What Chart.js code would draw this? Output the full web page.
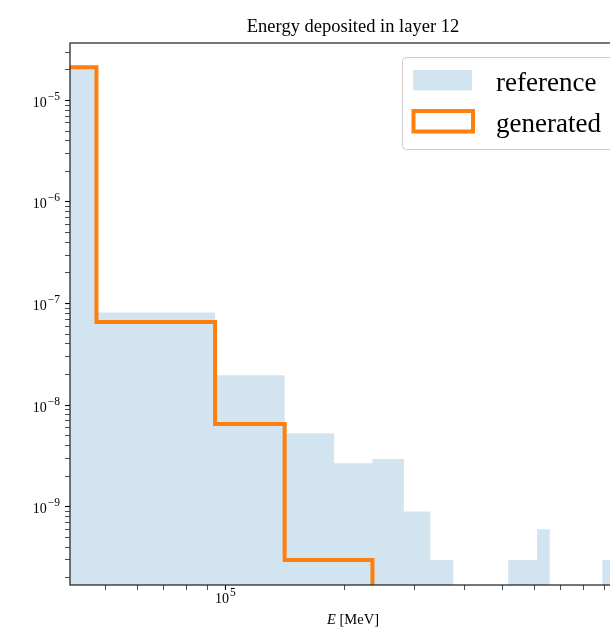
<!DOCTYPE html>
<html>
<head>
<meta charset="UTF-8">
<title>Energy deposited in layer 12</title>
<script src="https://cdn.jsdelivr.net/npm/chart.js"></script>
<style>
  html, body { margin: 0; padding: 0; background: #fff; overflow: hidden; }
  canvas { display: block; }
</style>
</head>
<body>
<canvas id="canvas" width="706" height="632"></canvas>
<script>
// histogram bin edges in MeV and normalised counts per bin
const binEdges = [500, 47370, 94240, 141110, 187980, 234850, 281720, 328590, 375460, 422330,
                  469200, 516070, 562940, 609810, 656680, 703550, 750420, 797290, 844160, 891030, 937900];
const referenceValues = [2.04e-5, 8.15e-8, 1.97e-8, 5.27e-9, 2.67e-9, 2.94e-9, 8.93e-10, 2.98e-10,
                         0, 0, 0, 2.98e-10, 2.98e-10, 5.98e-10, 0, 0, 0, 0, 0, 2.98e-10];
const generatedValues = [2.12e-5, 6.59e-8, 6.5e-9, 2.98e-10, 2.98e-10];

// decades that get a 10^n label
const xTickExponents = [5, 6];
const yTickExponents = [-9, -8, -7, -6, -5];

const serif = '"Liberation Serif", "Times New Roman", serif';

// stepped line: one point per left edge, then drop to zero at the last edge
function stepPoints(values) {
    let pts = values.map(function (v, i) { return {x: binEdges[i], y: v}; });
    pts.push({x: binEdges[values.length], y: 0});
    return pts;
}

// matplotlib style log ticks: 1..9 x 10^n, the 1 is the major one
function logTicks(axis) {
    let ticks = [];
    let lo = Math.floor(Math.log10(axis.min)), hi = Math.ceil(Math.log10(axis.max));
    for (let e = lo; e <= hi; e++) {
        for (let m = 1; m < 10; m++) {
            let v = m * Math.pow(10, e);
            if (v >= axis.min && v <= axis.max) ticks.push({value: v, major: m === 1});
        }
    }
    axis.ticks = ticks;
}

function powerLabel(ctx, exp, x, y, align) {
    let base = '10';
    let sup = (exp < 0 ? '\u2212' : '') + Math.abs(exp);
    ctx.font = '14px ' + serif;
    let wb = ctx.measureText(base).width;
    ctx.font = '11.5px ' + serif;
    let ws = ctx.measureText(sup).width;
    let x0 = align === 'right' ? x - wb - ws - 1 : x - (wb + ws + 1) / 2;
    ctx.textAlign = 'left';
    ctx.textBaseline = 'alphabetic';
    ctx.font = '14px ' + serif;
    ctx.fillText(base, x0, y);
    ctx.font = '11.5px ' + serif;
    ctx.fillText(sup, x0 + wb + 1, y - 7);
}

const decorations = {
    id: 'decorations',
    afterDatasetsDraw: function (chart) {
        let ctx = chart.ctx, ca = chart.chartArea;
        ctx.save();
        ctx.strokeStyle = '#1a1a1a';
        ctx.lineWidth = 1.2;
        ctx.strokeRect(ca.left, ca.top, ca.right - ca.left, ca.bottom - ca.top);
        ctx.restore();
    },
    afterDraw: function (chart) {
        let ctx = chart.ctx, ca = chart.chartArea;
        let xs = chart.scales.x, ys = chart.scales.y;
        ctx.save();
        ctx.fillStyle = '#000';

        yTickExponents.forEach(function (e) {
            let py = ys.getPixelForValue(Math.pow(10, e));
            powerLabel(ctx, e, ca.left - 10, py + 6.5, 'right');
        });
        xTickExponents.forEach(function (e) {
            let px = xs.getPixelForValue(Math.pow(10, e));
            powerLabel(ctx, e, px, ca.bottom + 17.5, 'center');
        });

        // axis title with italic E
        ctx.textBaseline = 'alphabetic';
        ctx.textAlign = 'left';
        ctx.font = 'italic 14.5px ' + serif;
        let wE = ctx.measureText('E').width;
        ctx.font = '14.5px ' + serif;
        let wRest = ctx.measureText(' [MeV]').width;
        let cx = (ca.left + ca.right) / 2 - (wE + wRest) / 2;
        ctx.font = 'italic 14.5px ' + serif;
        ctx.fillText('E', cx, ca.bottom + 39);
        ctx.font = '14.5px ' + serif;
        ctx.fillText(' [MeV]', cx + wE, ca.bottom + 39);

        // legend box in the upper right corner
        let ds = chart.data.datasets;
        let bx = ca.right - 234, by = ca.top + 14, bw = 224, bh = 92;
        ctx.beginPath();
        ctx.roundRect(bx + 0.5, by + 0.5, bw, bh, 4);
        ctx.fillStyle = 'rgba(255,255,255,0.8)';
        ctx.fill();
        ctx.strokeStyle = '#cccccc';
        ctx.lineWidth = 1;
        ctx.stroke();

        ctx.fillStyle = ds[0].backgroundColor;
        ctx.fillRect(bx + 11, by + 13, 59, 20.5);
        ctx.strokeStyle = ds[1].borderColor;
        ctx.lineWidth = 4;
        ctx.lineJoin = 'miter';
        ctx.strokeRect(bx + 11.5, by + 54, 59.5, 20.5);

        ctx.fillStyle = '#000';
        ctx.font = '27px ' + serif;
        ctx.fillText(ds[0].label, bx + 94, by + 33.5);
        ctx.fillText(ds[1].label, bx + 94, by + 74.5);
        ctx.restore();
    }
};

const axisCommon = {
    type: 'logarithmic',
    bounds: 'data',
    afterBuildTicks: logTicks,
    border: {display: false},
    grid: {
        drawOnChartArea: false,
        drawTicks: true,
        tickLength: 5,
        tickColor: '#000',
        tickWidth: function (c) { return c.tick && c.tick.major ? 1.1 : 0.7; }
    },
    ticks: {autoSkip: false, callback: function () { return ''; }}
};

let ctx = document.getElementById('canvas').getContext('2d');
let config = {
    type: 'line',
    data: {
        datasets: [{
            label: 'reference',
            data: stepPoints(referenceValues),
            stepped: 'before',
            fill: 'start',
            backgroundColor: 'rgba(31,119,180,0.2)',
            borderColor: 'rgba(0,0,0,0)',
            borderWidth: 0,
            pointRadius: 0,
            order: 2
        }, {
            label: 'generated',
            data: stepPoints(generatedValues),
            stepped: 'before',
            fill: false,
            borderColor: '#ff7f0e',
            borderWidth: 4,
            borderJoinStyle: 'miter',
            borderCapStyle: 'butt',
            pointRadius: 0,
            order: 1
        }]
    },
    options: {
        responsive: false,
        animation: false,
        devicePixelRatio: 1,
        parsing: false,
        events: [],
        layout: {padding: {left: 0, right: 70, top: 0, bottom: 0}},
        plugins: {
            legend: {display: false},
            tooltip: {enabled: false},
            title: {
                display: true,
                fullSize: false,
                text: 'Energy deposited in layer 12',
                color: '#000',
                font: {family: serif, size: 18.5, weight: 'normal'},
                padding: {top: 16.5, bottom: 4.3}
            }
        },
        scales: {
            x: Object.assign({}, axisCommon, {
                min: 40630,
                max: 1.083e6,
                afterFit: function (axis) { axis.height = 47; }
            }),
            y: Object.assign({}, axisCommon, {
                min: 1.69e-10,
                max: 3.68e-5,
                afterFit: function (axis) { axis.width = 70; }
            })
        }
    },
    plugins: [decorations]
};

let myChart = new Chart(ctx, config);
</script>
</body>
</html>
